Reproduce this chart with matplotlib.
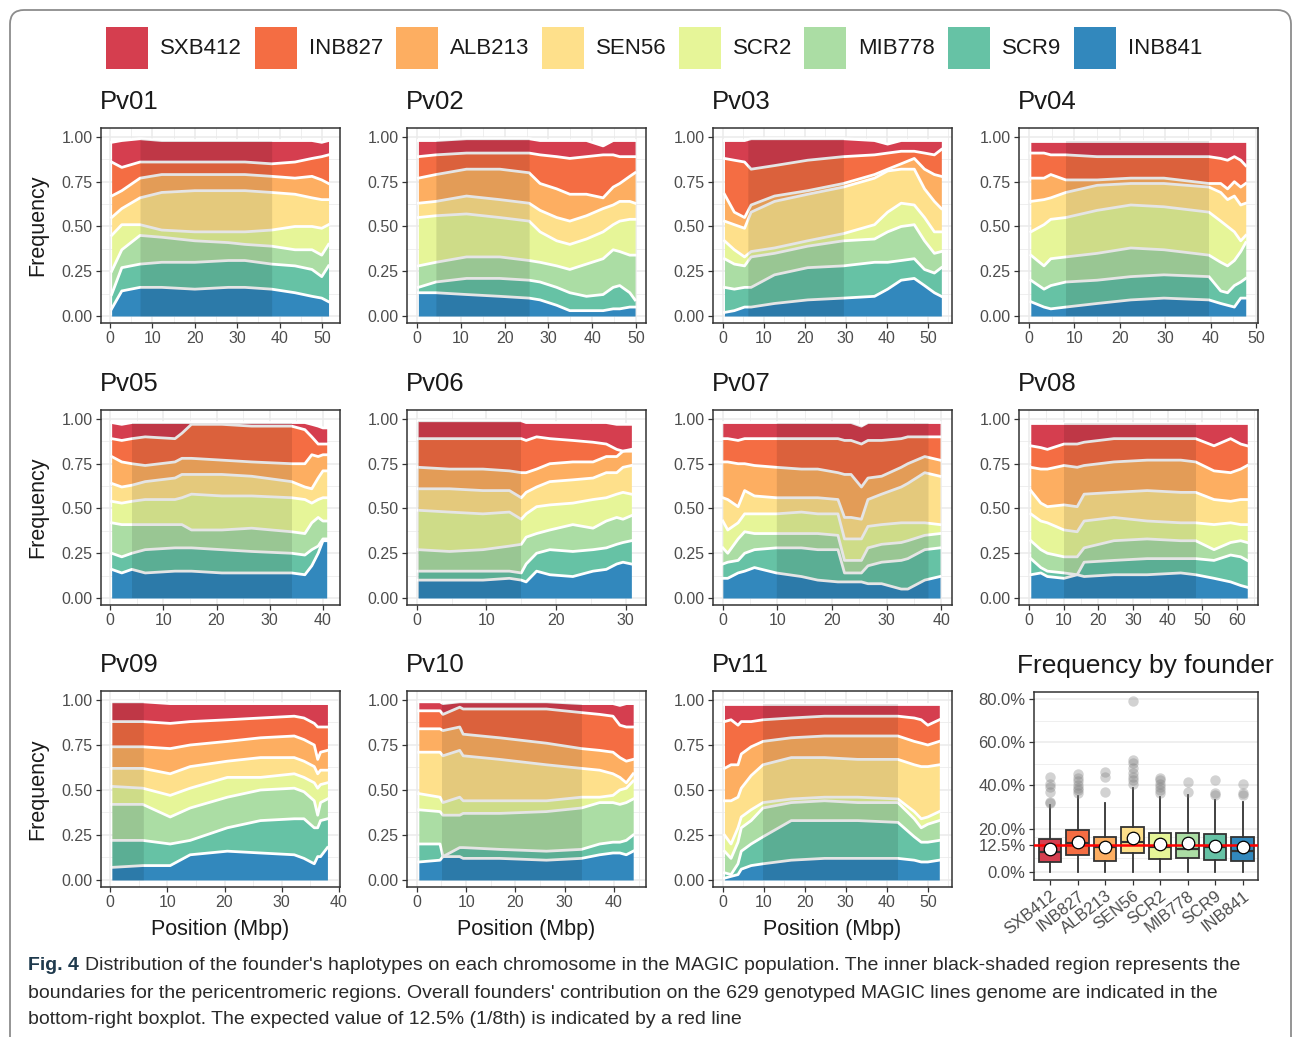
import numpy as np
import matplotlib
matplotlib.use("Agg")
import matplotlib.pyplot as plt
from matplotlib.patches import Rectangle, FancyBboxPatch
from matplotlib.transforms import IdentityTransform

plt.rcParams['font.family'] = ['Liberation Sans', 'DejaVu Sans']

# ---------------- data ----------------
FOUNDERS = ['SXB412', 'INB827', 'ALB213', 'SEN56', 'SCR2', 'MIB778', 'SCR9', 'INB841']
COLORS = ['#D53E4F', '#F46D43', '#FDAE61', '#FEE08B', '#E6F598', '#ABDDA4', '#66C2A5', '#3288BD']

CHROMS = ['Pv01', 'Pv02', 'Pv03', 'Pv04', 'Pv05', 'Pv06', 'Pv07', 'Pv08', 'Pv09', 'Pv10', 'Pv11']

# cumulative frequency at the top of each founder layer,
# order bottom -> top: INB841, SCR9, MIB778, SCR2, SEN56, ALB213, INB827, SXB412
PV01_POS = [0.4, 2.8, 7.1, 12.2, 20.0, 27.9, 31.8, 38.1, 43.6, 47.6, 49.9, 51.5]
PV01_TOPS = [
    [0.04, 0.14, 0.16, 0.16, 0.15, 0.16, 0.16, 0.15, 0.13, 0.11, 0.10, 0.08],
    [0.12, 0.27, 0.29, 0.30, 0.30, 0.31, 0.31, 0.29, 0.28, 0.26, 0.22, 0.28],
    [0.25, 0.37, 0.45, 0.44, 0.42, 0.41, 0.40, 0.39, 0.37, 0.37, 0.34, 0.40],
    [0.45, 0.51, 0.51, 0.48, 0.47, 0.47, 0.47, 0.48, 0.50, 0.50, 0.49, 0.51],
    [0.55, 0.60, 0.66, 0.69, 0.70, 0.70, 0.70, 0.69, 0.68, 0.66, 0.65, 0.65],
    [0.67, 0.70, 0.77, 0.79, 0.79, 0.79, 0.79, 0.78, 0.77, 0.78, 0.76, 0.74],
    [0.86, 0.83, 0.86, 0.86, 0.86, 0.86, 0.86, 0.85, 0.86, 0.88, 0.89, 0.90],
    [0.97, 0.98, 0.99, 0.98, 0.98, 0.98, 0.98, 0.98, 0.98, 0.98, 0.97, 0.98],
]
PV02_POS = [0.3, 4.3, 11.3, 18.9, 25.6, 28.1, 31.9, 34.9, 38.7, 42.5, 44.8, 46.3, 48.6, 49.8]
PV02_TOPS = [
    [0.13, 0.13, 0.12, 0.11, 0.10, 0.09, 0.06, 0.03, 0.03, 0.03, 0.04, 0.04, 0.05, 0.05],
    [0.16, 0.19, 0.21, 0.21, 0.20, 0.19, 0.16, 0.13, 0.11, 0.12, 0.16, 0.17, 0.13, 0.09],
    [0.28, 0.30, 0.33, 0.33, 0.31, 0.30, 0.28, 0.26, 0.29, 0.32, 0.37, 0.36, 0.34, 0.34],
    [0.55, 0.56, 0.57, 0.55, 0.53, 0.47, 0.42, 0.40, 0.43, 0.47, 0.51, 0.53, 0.54, 0.54],
    [0.63, 0.64, 0.67, 0.65, 0.63, 0.59, 0.55, 0.53, 0.56, 0.60, 0.62, 0.64, 0.64, 0.63],
    [0.77, 0.79, 0.82, 0.82, 0.80, 0.74, 0.71, 0.68, 0.68, 0.66, 0.72, 0.74, 0.78, 0.80],
    [0.89, 0.90, 0.91, 0.91, 0.91, 0.90, 0.89, 0.88, 0.89, 0.90, 0.90, 0.89, 0.89, 0.89],
    [0.98, 0.98, 0.99, 0.99, 0.99, 0.98, 0.98, 0.98, 0.98, 0.95, 0.98, 0.98, 0.98, 0.98],
]
PV03_POS = [0.4, 2.8, 5.3, 6.9, 12.6, 20.7, 29.4, 37.0, 40.2, 43.5, 46.7, 49.2, 51.6, 53.3]
PV03_TOPS = [
    [0.02, 0.03, 0.05, 0.05, 0.07, 0.09, 0.10, 0.11, 0.15, 0.20, 0.21, 0.17, 0.13, 0.11],
    [0.16, 0.15, 0.16, 0.16, 0.23, 0.27, 0.28, 0.30, 0.30, 0.31, 0.32, 0.26, 0.24, 0.27],
    [0.32, 0.29, 0.28, 0.33, 0.35, 0.39, 0.42, 0.43, 0.47, 0.50, 0.51, 0.42, 0.35, 0.36],
    [0.42, 0.37, 0.33, 0.36, 0.38, 0.42, 0.46, 0.51, 0.58, 0.63, 0.62, 0.55, 0.47, 0.47],
    [0.53, 0.51, 0.49, 0.58, 0.64, 0.68, 0.72, 0.77, 0.81, 0.82, 0.82, 0.71, 0.64, 0.60],
    [0.68, 0.58, 0.55, 0.62, 0.67, 0.70, 0.74, 0.79, 0.82, 0.85, 0.88, 0.82, 0.79, 0.78],
    [0.88, 0.87, 0.86, 0.82, 0.84, 0.87, 0.89, 0.90, 0.91, 0.92, 0.92, 0.91, 0.90, 0.93],
    [0.98, 0.98, 0.98, 0.99, 0.99, 0.99, 0.99, 0.98, 0.96, 0.98, 0.98, 0.98, 0.98, 0.98],
]
PV04_POS = [0.4, 3.3, 4.8, 8.1, 15.0, 22.4, 29.7, 39.6, 42.2, 43.7, 45.2, 46.6, 47.7]
PV04_TOPS = [
    [0.08, 0.05, 0.04, 0.05, 0.07, 0.09, 0.10, 0.09, 0.07, 0.06, 0.05, 0.10, 0.10],
    [0.20, 0.15, 0.17, 0.19, 0.20, 0.22, 0.23, 0.22, 0.14, 0.13, 0.17, 0.19, 0.21],
    [0.34, 0.28, 0.32, 0.33, 0.35, 0.38, 0.37, 0.34, 0.30, 0.28, 0.31, 0.36, 0.41],
    [0.47, 0.51, 0.54, 0.55, 0.59, 0.62, 0.61, 0.58, 0.53, 0.50, 0.47, 0.42, 0.45],
    [0.64, 0.65, 0.66, 0.69, 0.73, 0.74, 0.74, 0.72, 0.69, 0.65, 0.67, 0.62, 0.63],
    [0.77, 0.77, 0.79, 0.76, 0.76, 0.77, 0.77, 0.74, 0.74, 0.71, 0.75, 0.72, 0.74],
    [0.91, 0.91, 0.90, 0.90, 0.89, 0.89, 0.89, 0.89, 0.88, 0.87, 0.89, 0.87, 0.84],
    [0.98, 0.98, 0.98, 0.98, 0.98, 0.98, 0.98, 0.98, 0.98, 0.98, 0.98, 0.98, 0.98],
]
PV05_POS = [0.3, 2.2, 4.1, 6.6, 12.2, 13.5, 15.3, 21.0, 26.6, 34.1, 36.6, 37.9, 39.1, 40.0, 40.7]
PV05_TOPS = [
    [0.16, 0.14, 0.16, 0.14, 0.15, 0.15, 0.15, 0.14, 0.14, 0.14, 0.13, 0.18, 0.25, 0.32, 0.32],
    [0.25, 0.23, 0.25, 0.27, 0.28, 0.28, 0.28, 0.27, 0.26, 0.25, 0.24, 0.27, 0.29, 0.33, 0.33],
    [0.42, 0.41, 0.41, 0.41, 0.41, 0.41, 0.38, 0.38, 0.39, 0.37, 0.36, 0.42, 0.45, 0.43, 0.43],
    [0.54, 0.53, 0.54, 0.55, 0.55, 0.56, 0.58, 0.57, 0.57, 0.56, 0.55, 0.53, 0.55, 0.56, 0.56],
    [0.64, 0.62, 0.63, 0.65, 0.67, 0.69, 0.69, 0.69, 0.68, 0.65, 0.62, 0.61, 0.67, 0.71, 0.71],
    [0.79, 0.76, 0.75, 0.74, 0.76, 0.78, 0.78, 0.77, 0.76, 0.75, 0.75, 0.80, 0.79, 0.80, 0.80],
    [0.89, 0.88, 0.89, 0.90, 0.89, 0.92, 0.97, 0.97, 0.96, 0.96, 0.94, 0.90, 0.86, 0.86, 0.86],
    [0.98, 0.97, 0.98, 0.98, 0.98, 0.98, 0.98, 0.98, 0.98, 0.98, 0.98, 0.97, 0.96, 0.95, 0.95],
]
PV06_POS = [0.2, 4.7, 9.5, 13.3, 15.0, 15.7, 17.2, 19.1, 22.4, 25.3, 27.2, 28.7, 29.6, 30.8]
PV06_TOPS = [
    [0.10, 0.10, 0.10, 0.11, 0.10, 0.09, 0.15, 0.13, 0.12, 0.15, 0.16, 0.19, 0.20, 0.19],
    [0.15, 0.15, 0.15, 0.15, 0.14, 0.19, 0.25, 0.27, 0.26, 0.27, 0.28, 0.30, 0.31, 0.32],
    [0.27, 0.26, 0.27, 0.29, 0.30, 0.34, 0.36, 0.38, 0.41, 0.39, 0.43, 0.45, 0.44, 0.46],
    [0.49, 0.48, 0.47, 0.48, 0.44, 0.47, 0.51, 0.52, 0.53, 0.55, 0.56, 0.58, 0.59, 0.58],
    [0.61, 0.61, 0.60, 0.60, 0.56, 0.59, 0.62, 0.65, 0.66, 0.67, 0.70, 0.70, 0.73, 0.74],
    [0.73, 0.72, 0.72, 0.71, 0.70, 0.70, 0.72, 0.75, 0.76, 0.76, 0.79, 0.79, 0.82, 0.82],
    [0.89, 0.89, 0.89, 0.89, 0.89, 0.88, 0.90, 0.89, 0.88, 0.87, 0.86, 0.83, 0.82, 0.83],
    [0.99, 0.99, 0.99, 0.99, 0.99, 0.98, 0.98, 0.98, 0.98, 0.98, 0.98, 0.97, 0.97, 0.97],
]
PV07_POS = [0.0, 0.9, 2.8, 4.0, 5.8, 9.8, 14.4, 17.4, 21.1, 22.3, 23.5, 25.4, 26.6, 29.1, 32.7, 33.9, 37.0, 39.8]
PV07_TOPS = [
    [0.11, 0.11, 0.14, 0.15, 0.17, 0.14, 0.12, 0.10, 0.09, 0.09, 0.09, 0.09, 0.08, 0.08, 0.05, 0.05, 0.10, 0.12],
    [0.19, 0.20, 0.21, 0.25, 0.27, 0.28, 0.28, 0.27, 0.27, 0.14, 0.14, 0.14, 0.18, 0.20, 0.21, 0.22, 0.27, 0.28],
    [0.28, 0.25, 0.33, 0.37, 0.36, 0.36, 0.36, 0.36, 0.35, 0.21, 0.21, 0.21, 0.28, 0.30, 0.31, 0.32, 0.35, 0.36],
    [0.43, 0.38, 0.42, 0.47, 0.47, 0.47, 0.48, 0.47, 0.47, 0.33, 0.33, 0.33, 0.40, 0.41, 0.42, 0.42, 0.42, 0.41],
    [0.56, 0.55, 0.51, 0.60, 0.57, 0.56, 0.56, 0.56, 0.55, 0.45, 0.45, 0.44, 0.55, 0.58, 0.62, 0.64, 0.70, 0.68],
    [0.76, 0.76, 0.75, 0.75, 0.74, 0.73, 0.72, 0.72, 0.70, 0.69, 0.69, 0.62, 0.67, 0.68, 0.73, 0.75, 0.79, 0.77],
    [0.89, 0.89, 0.88, 0.89, 0.89, 0.89, 0.89, 0.89, 0.89, 0.88, 0.88, 0.86, 0.88, 0.88, 0.89, 0.90, 0.90, 0.90],
    [0.98, 0.98, 0.98, 0.98, 0.98, 0.98, 0.98, 0.98, 0.98, 0.98, 0.98, 0.96, 0.98, 0.98, 0.98, 0.98, 0.98, 0.98],
]
PV08_POS = [0.5, 3.4, 5.3, 10.1, 13.9, 15.9, 24.5, 34.1, 43.8, 48.1, 53.4, 58.2, 61.1, 63.0]
PV08_TOPS = [
    [0.13, 0.14, 0.12, 0.11, 0.13, 0.12, 0.13, 0.13, 0.14, 0.13, 0.11, 0.09, 0.07, 0.06],
    [0.22, 0.17, 0.15, 0.14, 0.13, 0.20, 0.21, 0.22, 0.22, 0.22, 0.21, 0.24, 0.23, 0.21],
    [0.32, 0.27, 0.25, 0.23, 0.23, 0.28, 0.32, 0.33, 0.32, 0.32, 0.27, 0.31, 0.32, 0.31],
    [0.47, 0.43, 0.42, 0.38, 0.37, 0.43, 0.45, 0.43, 0.42, 0.42, 0.41, 0.42, 0.41, 0.41],
    [0.60, 0.53, 0.51, 0.52, 0.51, 0.58, 0.59, 0.60, 0.59, 0.59, 0.55, 0.54, 0.55, 0.55],
    [0.73, 0.72, 0.72, 0.74, 0.73, 0.74, 0.76, 0.77, 0.77, 0.76, 0.71, 0.70, 0.72, 0.74],
    [0.85, 0.84, 0.83, 0.86, 0.86, 0.87, 0.89, 0.89, 0.89, 0.89, 0.85, 0.89, 0.86, 0.85],
    [0.98, 0.98, 0.98, 0.98, 0.98, 0.98, 0.98, 0.98, 0.98, 0.98, 0.98, 0.98, 0.98, 0.98],
]
PV09_POS = [0.3, 5.7, 10.5, 14.0, 20.5, 26.3, 32.2, 33.9, 35.7, 36.3, 36.8, 38.0]
PV09_TOPS = [
    [0.07, 0.08, 0.08, 0.14, 0.16, 0.15, 0.14, 0.12, 0.09, 0.13, 0.13, 0.18],
    [0.22, 0.22, 0.20, 0.22, 0.29, 0.33, 0.34, 0.34, 0.29, 0.29, 0.33, 0.34],
    [0.42, 0.42, 0.35, 0.40, 0.46, 0.50, 0.51, 0.49, 0.44, 0.36, 0.43, 0.45],
    [0.52, 0.51, 0.47, 0.51, 0.57, 0.57, 0.59, 0.57, 0.54, 0.51, 0.53, 0.54],
    [0.62, 0.62, 0.59, 0.63, 0.66, 0.68, 0.68, 0.66, 0.63, 0.59, 0.61, 0.61],
    [0.74, 0.74, 0.73, 0.75, 0.77, 0.79, 0.80, 0.78, 0.75, 0.67, 0.71, 0.72],
    [0.88, 0.88, 0.87, 0.88, 0.89, 0.90, 0.91, 0.90, 0.87, 0.85, 0.85, 0.85],
    [0.99, 0.99, 0.98, 0.98, 0.98, 0.98, 0.98, 0.98, 0.98, 0.98, 0.98, 0.98],
]
PV10_POS = [0.4, 4.7, 5.3, 8.7, 9.4, 16.8, 26.3, 33.4, 37.1, 39.8, 41.2, 42.5, 43.9]
PV10_TOPS = [
    [0.10, 0.11, 0.13, 0.13, 0.12, 0.12, 0.11, 0.12, 0.14, 0.15, 0.15, 0.14, 0.16],
    [0.20, 0.20, 0.13, 0.18, 0.18, 0.17, 0.16, 0.17, 0.20, 0.21, 0.21, 0.22, 0.25],
    [0.39, 0.38, 0.36, 0.36, 0.37, 0.37, 0.38, 0.40, 0.43, 0.43, 0.42, 0.43, 0.45],
    [0.48, 0.46, 0.43, 0.46, 0.44, 0.44, 0.44, 0.46, 0.46, 0.47, 0.50, 0.51, 0.55],
    [0.71, 0.71, 0.69, 0.72, 0.69, 0.67, 0.64, 0.62, 0.61, 0.59, 0.57, 0.54, 0.59],
    [0.84, 0.84, 0.83, 0.85, 0.81, 0.79, 0.76, 0.73, 0.72, 0.71, 0.68, 0.66, 0.67],
    [0.94, 0.94, 0.92, 0.96, 0.95, 0.95, 0.95, 0.93, 0.92, 0.91, 0.86, 0.85, 0.85],
    [0.99, 0.99, 0.98, 0.99, 0.99, 0.99, 0.99, 0.98, 0.98, 0.98, 0.97, 0.98, 0.98],
]
PV11_POS = [0.4, 2.0, 3.7, 4.5, 6.9, 9.8, 16.7, 24.8, 32.9, 42.7, 46.7, 48.4, 50.0, 52.8]
PV11_TOPS = [
    [0.01, 0.02, 0.03, 0.06, 0.08, 0.09, 0.11, 0.12, 0.12, 0.12, 0.11, 0.10, 0.10, 0.11],
    [0.04, 0.03, 0.09, 0.16, 0.20, 0.24, 0.33, 0.33, 0.33, 0.32, 0.24, 0.21, 0.21, 0.22],
    [0.16, 0.12, 0.21, 0.29, 0.33, 0.40, 0.43, 0.44, 0.43, 0.43, 0.34, 0.29, 0.31, 0.33],
    [0.25, 0.20, 0.29, 0.35, 0.39, 0.43, 0.45, 0.46, 0.46, 0.45, 0.38, 0.34, 0.35, 0.38],
    [0.44, 0.44, 0.46, 0.51, 0.58, 0.64, 0.68, 0.68, 0.67, 0.67, 0.64, 0.63, 0.63, 0.64],
    [0.62, 0.64, 0.64, 0.70, 0.74, 0.77, 0.79, 0.80, 0.80, 0.80, 0.77, 0.76, 0.75, 0.77],
    [0.88, 0.89, 0.86, 0.88, 0.88, 0.89, 0.90, 0.91, 0.91, 0.91, 0.90, 0.89, 0.86, 0.89],
    [0.98, 0.98, 0.98, 0.98, 0.98, 0.98, 0.98, 0.98, 0.98, 0.98, 0.98, 0.98, 0.98, 0.98],
]
POSITIONS = [PV01_POS, PV02_POS, PV03_POS, PV04_POS, PV05_POS, PV06_POS,
             PV07_POS, PV08_POS, PV09_POS, PV10_POS, PV11_POS]
TOPS = [PV01_TOPS, PV02_TOPS, PV03_TOPS, PV04_TOPS, PV05_TOPS, PV06_TOPS,
        PV07_TOPS, PV08_TOPS, PV09_TOPS, PV10_TOPS, PV11_TOPS]

# pericentromeric region (start, end) in Mbp
CENTRO_START = [7.1, 4.3, 6.1, 8.1, 4.1, 0.2, 9.8, 10.1, 0.3, 5.0, 9.8]
CENTRO_END = [38.1, 25.6, 29.4, 39.6, 34.1, 15.0, 37.6, 48.1, 5.8, 33.4, 42.7]

X_TICKS = [[0, 10, 20, 30, 40, 50], [0, 10, 20, 30, 40, 50], [0, 10, 20, 30, 40, 50],
           [0, 10, 20, 30, 40, 50], [0, 10, 20, 30, 40], [0, 10, 20, 30],
           [0, 10, 20, 30, 40], [0, 10, 20, 30, 40, 50, 60], [0, 10, 20, 30, 40],
           [0, 10, 20, 30, 40], [0, 10, 20, 30, 40, 50]]
X_LIMS = [(-2.1, 54.2), (-2.3, 52.3), (-2.4, 55.9), (-2.2, 50.4), (-1.7, 43.2), (-1.4, 32.9),
          (-1.8, 42.0), (-2.9, 66.1), (-1.6, 40.2), (-2.0, 46.5), (-2.4, 55.9)]
Y_TICKS = [0.0, 0.25, 0.50, 0.75, 1.00]

# founder contribution boxplot (% of genome per line)
BOX_Q1 = [4.6, 7.7, 5.1, 8.5, 5.7, 6.2, 5.4, 5.1]
BOX_MED = [9.3, 13.4, 11.6, 13.9, 11.6, 10.3, 11.6, 9.6]
BOX_Q3 = [15.1, 19.3, 15.9, 20.8, 17.8, 18.1, 17.3, 16.2]
BOX_WLO = [0.0, 0.0, 0.0, 0.0, 0.0, 0.0, 0.0, 0.0]
BOX_WHI = [30.9, 35.0, 31.7, 39.0, 34.7, 35.5, 33.2, 32.4]
BOX_MEAN = [10.5, 13.9, 11.3, 15.4, 12.7, 13.1, 12.0, 11.6]
BOX_FLIERS = [
    [31.7, 32.4, 37.0, 39.4, 40.9, 44.0],
    [36.5, 38.0, 39.0, 40.0, 42.0, 43.5, 45.5],
    [37.0, 44.0, 46.3],
    [40.9, 42.5, 44.0, 45.6, 47.9, 50.2, 51.7, 79.0],
    [36.3, 37.8, 39.4, 40.9, 42.5, 43.4],
    [37.0, 41.7],
    [35.5, 36.3, 42.5],
    [35.5, 36.3, 40.9],
]
EXPECTED = 12.5
BOX_YTICKS = [0.0, 12.5, 20.0, 40.0, 60.0, 80.0]

CAPTION = [
    "Distribution of the founder's haplotypes on each chromosome in the MAGIC population. The inner black-shaded region represents the",
    "boundaries for the pericentromeric regions. Overall founders' contribution on the 629 genotyped MAGIC lines genome are indicated in the",
    "bottom-right boxplot. The expected value of 12.5% (1/8th) is indicated by a red line",
]

# ---------------- figure ----------------
W, H = 1293, 1037
fig = plt.figure(figsize=(W / 100, H / 100), dpi=100)
fig.patch.set_facecolor('white')

TXT = '#1a1a1a'
TICK_C = '#4D4D4D'
GRID_C = '#EBEBEB'
SPINE_C = '#333333'


def px_axes(left, top, width, height):
    return fig.add_axes([left / W, 1 - (top + height) / H, width / W, height / H])


def style_axes(ax):
    for s in ax.spines.values():
        s.set_color(SPINE_C)
        s.set_linewidth(1.1)
    ax.tick_params(which='major', length=3.5, width=0.9, color=SPINE_C,
                   labelcolor=TICK_C, labelsize=11.5, pad=2.5)
    ax.tick_params(which='minor', length=0)
    ax.grid(which='major', color=GRID_C, lw=1.1)
    ax.grid(which='minor', color=GRID_C, lw=0.55)
    ax.set_axisbelow(True)


# outer rounded frame
frame = FancyBboxPatch((10, -30), 1281, H - 10 + 30,
                       boxstyle='round,pad=0,rounding_size=14',
                       transform=IdentityTransform(), fill=False,
                       ec='#8c8c8c', lw=1.3)
fig.add_artist(frame)

# legend
LEG_TEXT_X = [160, 309, 450, 596, 733, 858, 1002, 1128]
for i, f in enumerate(FOUNDERS):
    sq = Rectangle(((LEG_TEXT_X[i] - 54) / W, 1 - (48 + 21) / H), 42 / W, 42 / H,
                   transform=fig.transFigure, facecolor=COLORS[i], edgecolor='none')
    fig.add_artist(sq)
    fig.text(LEG_TEXT_X[i] / W, 1 - 48 / H, f, fontsize=16, va='center', ha='left', color=TXT)

COL_LEFT = [101, 407, 713, 1019]
ROW_TOP = [128, 410, 691]
ROW_H = [195, 195, 196]
PANEL_W = 239
STACK_COLORS = COLORS[::-1]

for k, name in enumerate(CHROMS):
    r, c = divmod(k, 4)
    ax = px_axes(COL_LEFT[c], ROW_TOP[r], PANEL_W, ROW_H[r])
    x = np.array(POSITIONS[k])
    tops = np.array(TOPS[k])
    lower = np.zeros_like(x)
    for j in range(8):
        ax.fill_between(x, lower, tops[j], color=STACK_COLORS[j], lw=0, zorder=2)
        lower = tops[j]
    for j in range(8):
        ax.plot(x, tops[j], color='white', lw=2.0, zorder=3, solid_joinstyle='round')
    a, b = CENTRO_START[k], CENTRO_END[k]
    xs = np.linspace(a, b, 400)
    ax.fill_between(xs, 0, np.interp(xs, x, tops[-1]), color='black', alpha=0.1, lw=0, zorder=4)

    lo, hi = X_LIMS[k]
    mt = X_TICKS[k]
    ax.set_xticks(mt)
    ax.set_xticklabels([str(t) for t in mt])
    ax.set_xticks([t + 5 for t in mt if t + 5 < hi], minor=True)
    ax.set_yticks(Y_TICKS)
    ax.set_yticklabels([f'{v:.2f}' for v in Y_TICKS])
    ax.set_yticks([0.125, 0.375, 0.625, 0.875], minor=True)
    ax.set_xlim(lo, hi)
    ax.set_ylim(-0.039, 1.05)
    style_axes(ax)
    ax.text(-0.004, 1 + 26 / ROW_H[r], name, transform=ax.transAxes, fontsize=18.5,
            va='center', ha='left', color=TXT)
    if c == 0:
        ax.set_ylabel('Frequency', fontsize=15.5, color=TXT)
        ax.yaxis.set_label_coords(-(101 - 38) / PANEL_W, 0.5)
        ax.yaxis.label.set_va('center')
    if r == 2:
        ax.set_xlabel('Position (Mbp)', fontsize=15.5, color=TXT)
        ax.xaxis.label.set_va('center')
        ax.xaxis.set_label_coords(0.5, -(929 - 887) / ROW_H[r])

# ---- boxplot panel ----
bx = px_axes(1034, 692, 224, 188)
stats = []
for i, f in enumerate(FOUNDERS):
    stats.append(dict(label=f, q1=BOX_Q1[i], med=BOX_MED[i], q3=BOX_Q3[i],
                      whislo=BOX_WLO[i], whishi=BOX_WHI[i], mean=BOX_MEAN[i],
                      fliers=BOX_FLIERS[i]))
bp = bx.bxp(stats, positions=list(range(1, 9)), widths=0.82, patch_artist=True,
            showmeans=True, showcaps=False, showfliers=True,
            boxprops=dict(edgecolor='#333333', linewidth=1.3),
            medianprops=dict(color='#333333', linewidth=1.6),
            whiskerprops=dict(color='#333333', linewidth=1.3),
            flierprops=dict(marker='o', markerfacecolor='#808080', markeredgecolor='none',
                            alpha=0.35, markersize=7.5),
            meanprops=dict(marker='o', markerfacecolor='white', markeredgecolor='black',
                           markersize=9, markeredgewidth=0.9))
for patch, col in zip(bp['boxes'], COLORS):
    patch.set_facecolor(col)
    patch.set_zorder(2)
for m in bp['medians']:
    m.set_zorder(2.2)
bx.axhline(EXPECTED, color='#FF0000', lw=1.8, zorder=3)
for m in bp['means']:
    m.set_zorder(4)
bx.set_yticks(BOX_YTICKS)
bx.set_yticklabels([f'{v:.1f}%' for v in BOX_YTICKS])
bx.set_yticks([6.25, 16.25, 30, 50, 70], minor=True)
bx.set_xticks(list(range(1, 9)))
bx.set_xticklabels(FOUNDERS)
bx.set_xlim(0.41, 8.56)
bx.set_ylim(-3.9, 83.4)
style_axes(bx)
bx.grid(which='major', axis='x', visible=False)
bx.tick_params(axis='y', labelsize=12)
bx.tick_params(axis='x', labelsize=12)
for lab in bx.get_xticklabels():
    lab.set_rotation(38)
    lab.set_ha('right')
    lab.set_va('top')
    lab.set_rotation_mode('anchor')
bx.text(1017 / W, 1 - 666 / H, 'Frequency by founder', transform=fig.transFigure,
        fontsize=19, va='center', ha='left', color=TXT)

# ---- caption ----
CAP_C = '#2a2a2a'
cap_y = [966, 993, 1020]
fig.text(28 / W, 1 - cap_y[0] / H, 'Fig. 4', fontsize=14, fontweight='bold', va='center',
         ha='left', color='#1f3a4d')
fig.text(85 / W, 1 - cap_y[0] / H, CAPTION[0], fontsize=14, va='center', ha='left', color=CAP_C)
fig.text(28 / W, 1 - cap_y[1] / H, CAPTION[1], fontsize=14, va='center', ha='left', color=CAP_C)
fig.text(28 / W, 1 - cap_y[2] / H, CAPTION[2], fontsize=14, va='center', ha='left', color=CAP_C)

fig.savefig('out.png', dpi=100, facecolor='white')
